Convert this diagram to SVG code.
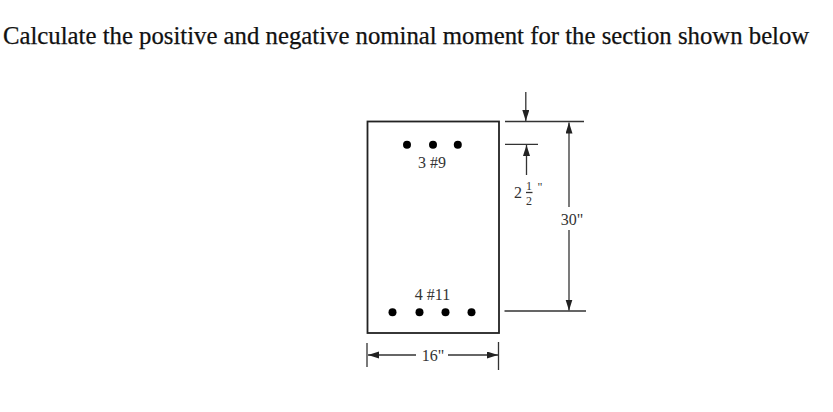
<svg xmlns="http://www.w3.org/2000/svg" width="833" height="412" viewBox="0 0 833 412">
<style>
text{font-family:"Liberation Serif","Times New Roman",serif;fill:#333}
.t{font-size:24.76px;fill:#111;stroke:#111;stroke-width:.25}
.l{font-size:16px}
.f{font-size:12px}
.d{stroke:#333;stroke-width:1.3;fill:none}
.b{fill:#000}
</style>
<defs>
<marker id="a" markerUnits="userSpaceOnUse" markerWidth="12" markerHeight="8" refX="11" refY="3.5" orient="auto"><path d="M0 0L11 3.5L0 7Z" fill="#222"/></marker>
</defs>
<rect width="833" height="412" fill="#fff"/>
<text id="title" class="t" x="3" y="44">Calculate the positive and negative nominal moment for the section shown below</text>
<g id="section"><rect x="367.500" y="121.500" width="131.500" height="211.500" fill="none" stroke="#222" stroke-width="1.8"/></g>
<g id="top-bars"><circle class="b" cx="407" cy="144.700" r="4"/><circle class="b" cx="433" cy="144.700" r="4"/><circle class="b" cx="457.800" cy="144.700" r="4"/><text class="l" x="432" y="168" text-anchor="middle">3 #9</text></g>
<g id="bottom-bars"><circle class="b" cx="392.500" cy="312.300" r="4"/><circle class="b" cx="419.500" cy="312.300" r="4"/><circle class="b" cx="445.500" cy="312.300" r="4"/><circle class="b" cx="471.500" cy="312.300" r="4"/><text class="l" x="432.500" y="300" text-anchor="middle">4 #11</text></g>
<g id="connectors">
<path class="d" d="M505 121.500H584M505 144.300H538M504.500 311H586"/>
<path class="d" marker-end="url(#a)" d="M525.800 92V121"/>
<path class="d" marker-end="url(#a)" d="M526.500 175V145"/>
<path class="d" marker-end="url(#a)" d="M569 207V122.500"/>
<path class="d" marker-end="url(#a)" d="M569 230V310.500"/>
<path class="d" d="M367 343V367M498.500 342V370"/>
<path class="d" marker-end="url(#a)" d="M416 355H368"/>
<path class="d" marker-end="url(#a)" d="M448 355H498"/>
</g>
<g id="dim-labels">
<text class="l" x="518" y="198" text-anchor="middle">2</text>
<text class="f" x="529" y="189.500" text-anchor="middle">1</text>
<path class="d" d="M526 192.500H532.500"/>
<text class="f" x="529" y="205" text-anchor="middle">2</text>
<text class="f" x="540" y="191" text-anchor="middle">"</text>
<text class="l" x="572" y="224.500" text-anchor="middle">30"</text>
<text class="l" x="433" y="361" text-anchor="middle">16"</text>
</g>
</svg>
